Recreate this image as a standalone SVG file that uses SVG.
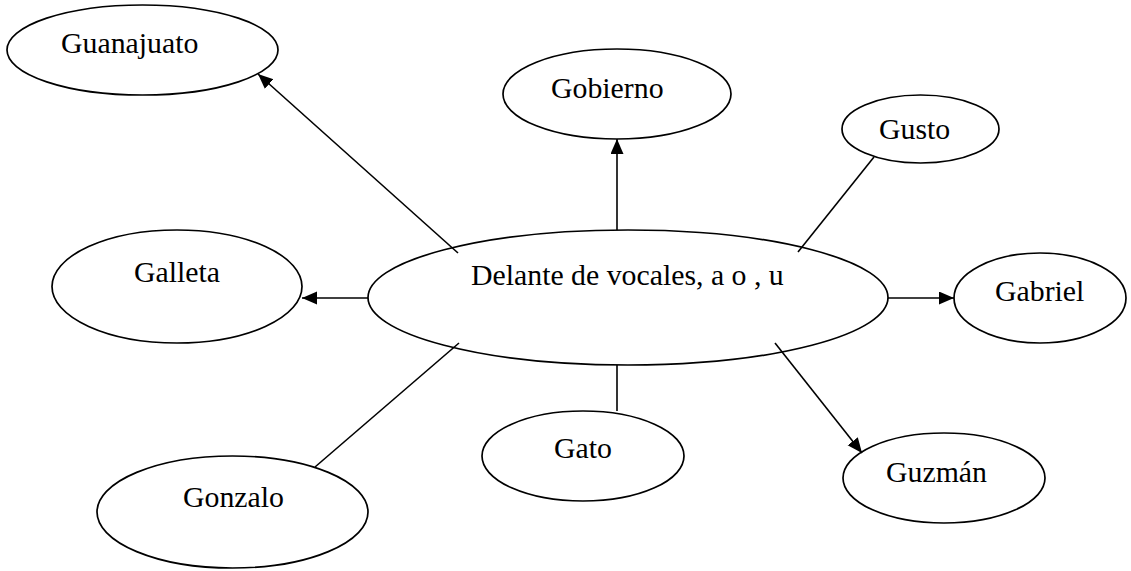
<svg xmlns="http://www.w3.org/2000/svg" width="1131" height="571" viewBox="0 0 1131 571">
<style>
.n ellipse{fill:#fff;stroke:#000;stroke-width:1.7}
.n text{font-family:"Liberation Serif","Times New Roman",serif;font-size:29.8px;fill:#000}
.c line{stroke:#000;stroke-width:1.6;fill:none}
</style>
<defs>
<marker id="ah" markerUnits="userSpaceOnUse" markerWidth="16" markerHeight="14" refX="15" refY="6.5" orient="auto">
<path d="M0,0 L15,6.5 L0,13 Z" fill="#000"/>
</marker>
</defs>
<rect width="1131" height="571" fill="#fff"/>
<g id="n-central" class="n"><ellipse cx="628" cy="297.5" rx="260" ry="67.5"/><text x="471" y="285">Delante de vocales, a o , u</text></g>
<g id="n-guanajuato" class="n"><ellipse cx="142.5" cy="50" rx="135.5" ry="45"/><text x="61" y="53">Guanajuato</text></g>
<g id="n-gobierno" class="n"><ellipse cx="617" cy="94" rx="114" ry="45"/><text x="551" y="98">Gobierno</text></g>
<g id="n-gusto" class="n"><ellipse cx="920.5" cy="129" rx="78.5" ry="34"/><text x="879" y="139">Gusto</text></g>
<g id="n-galleta" class="n"><ellipse cx="177" cy="286.5" rx="125" ry="56.5"/><text x="134" y="282">Galleta</text></g>
<g id="n-gabriel" class="n"><ellipse cx="1040" cy="298" rx="86" ry="45"/><text x="995" y="301">Gabriel</text></g>
<g id="n-gato" class="n"><ellipse cx="583" cy="456" rx="101" ry="45"/><text x="554" y="458">Gato</text></g>
<g id="n-guzman" class="n"><ellipse cx="944" cy="478" rx="101" ry="45"/><text x="886" y="482">Guzmán</text></g>
<g id="n-gonzalo" class="n"><ellipse cx="232.5" cy="512" rx="135.5" ry="56"/><text x="183" y="507">Gonzalo</text></g>
<g id="connectors" class="c">
<line x1="458" y1="253" x2="258" y2="74" marker-end="url(#ah)"/>
<line x1="617" y1="230" x2="617" y2="139" marker-end="url(#ah)"/>
<line x1="798" y1="252" x2="874" y2="157"/>
<line x1="368" y1="298" x2="302" y2="298" marker-end="url(#ah)"/>
<line x1="888" y1="298" x2="954" y2="298" marker-end="url(#ah)"/>
<line x1="459" y1="343" x2="315" y2="467"/>
<line x1="617" y1="365" x2="617" y2="411"/>
<line x1="775" y1="343" x2="862" y2="453" marker-end="url(#ah)"/>
</g>
</svg>
